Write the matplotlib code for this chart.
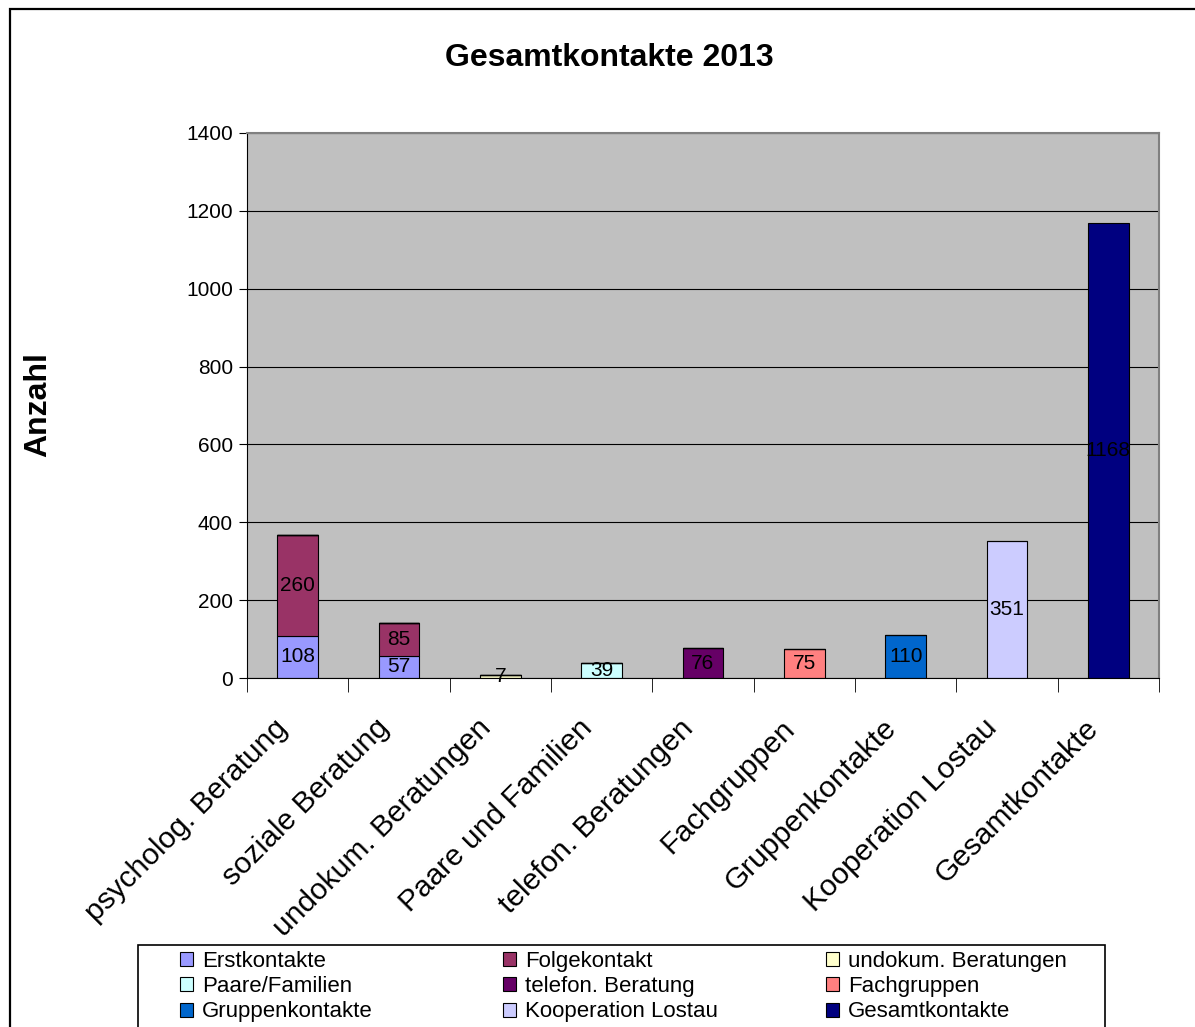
import matplotlib.pyplot as plt
import matplotlib.transforms as mtransforms
import numpy as np
from matplotlib.patches import Rectangle

plt.rcParams['font.family'] = ['Liberation Sans', 'DejaVu Sans']

# Kategorien (x-Achse)
categories = ["psycholog. Beratung", "soziale Beratung", "undokum. Beratungen",
              "Paare und Familien", "telefon. Beratungen", "Fachgruppen",
              "Gruppenkontakte", "Kooperation Lostau", "Gesamtkontakte"]

# Serien (je Serie ein Wert pro Kategorie, 0 = leer)
series_names = ["Erstkontakte", "Folgekontakt", "undokum. Beratungen",
                "Paare/Familien", "telefon. Beratung", "Fachgruppen",
                "Gruppenkontakte", "Kooperation Lostau", "Gesamtkontakte"]
erstkontakte = [108, 57, 0, 0, 0, 0, 0, 0, 0]
folgekontakt = [260, 85, 0, 0, 0, 0, 0, 0, 0]
undokum = [0, 0, 7, 0, 0, 0, 0, 0, 0]
paare = [0, 0, 0, 39, 0, 0, 0, 0, 0]
telefon = [0, 0, 0, 0, 76, 0, 0, 0, 0]
fachgruppen = [0, 0, 0, 0, 0, 75, 0, 0, 0]
gruppen = [0, 0, 0, 0, 0, 0, 110, 0, 0]
kooperation = [0, 0, 0, 0, 0, 0, 0, 351, 0]
gesamt = [0, 0, 0, 0, 0, 0, 0, 0, 1168]
series_values = [erstkontakte, folgekontakt, undokum, paare, telefon,
                 fachgruppen, gruppen, kooperation, gesamt]
colors = ["#9999FF", "#993366", "#FFFFCC", "#CCFFFF", "#660066",
          "#FF8080", "#0066CC", "#CCCCFF", "#000080"]

W, H = 1195, 1027
fig = plt.figure(figsize=(W / 100, H / 100), dpi=100)

# Rahmen um das Diagramm
fig.patches.append(Rectangle((10 / W, -0.01), 1.2, 1 - 9 / H + 0.01,
                             transform=fig.transFigure, fill=False,
                             edgecolor='black', linewidth=1.6))

ax = fig.add_axes([247 / W, 1 - 678 / H, 912 / W, 545 / H])
ax.set_facecolor('#C0C0C0')
ax.set_axisbelow(True)

x = np.arange(len(categories))
bottom = np.zeros(len(categories))
handles = []
for name, vals, col in zip(series_names, series_values, colors):
    vals = np.array(vals, dtype=float)
    bars = ax.bar(x, vals, width=0.4, bottom=bottom, color=col, edgecolor='black',
                  linewidth=0.8, label=name)
    handles.append(bars)
    for xi, v, b in zip(x, vals, bottom):
        if v > 0:
            ax.text(xi, b + v / 2, str(int(v)), ha='center', va='center',
                    fontsize=15, color='black')
    bottom += vals

ax.set_xlim(-0.5, len(categories) - 0.5)
ax.set_ylim(0, 1400)
ax.set_yticks(range(0, 1401, 200))
ax.tick_params(axis='y', labelsize=15, length=6, direction='out', pad=4)
ax.yaxis.grid(True, color='black', linewidth=0.8)

ax.set_xticks(x)
ax.set_xticklabels([])
ax.tick_params(axis='x', length=0)
ax.set_xticks(np.arange(len(categories) + 1) - 0.5, minor=True)
ax.tick_params(axis='x', which='minor', length=10, direction='out')
shift = mtransforms.ScaledTranslation(-24 / 100, -36 / 100, fig.dpi_scale_trans)
for xi, lab in zip(x, categories):
    ax.text(xi, 0, lab, rotation=45, ha='right', va='top',
            rotation_mode='anchor', fontsize=21.5,
            transform=ax.transData + shift, clip_on=False)

for s in ['top', 'right']:
    ax.spines[s].set_color('#808080')
    ax.spines[s].set_linewidth(1.5)
for s in ['left', 'bottom']:
    ax.spines[s].set_color('black')

fig.text(38 / W, 1 - 405 / H, 'Anzahl', rotation=90, ha='center', va='center',
         fontsize=23, fontweight='bold')
fig.text(609 / W, 1 - 58 / H, 'Gesamtkontakte 2013', ha='center',
         va='center', fontsize=23, fontweight='bold')

# Legende: Rahmen + drei Spalten
fig.patches.append(Rectangle((138 / W, -0.01), (1105 - 138) / W, 1 - 945 / H + 0.01,
                             transform=fig.transFigure, fill=False,
                             edgecolor='black', linewidth=1.2))
col_x = [180, 503, 826]
for c in range(3):
    idx = [r * 3 + c for r in range(3)]
    fig.legend([handles[i] for i in idx], [series_names[i] for i in idx],
               loc='upper left', bbox_to_anchor=(col_x[c] / W, 1 - 951 / H),
               fontsize=16, frameon=False, handlelength=0.6, handleheight=0.6,
               handletextpad=0.4, labelspacing=0.19, borderaxespad=0, borderpad=0.0)

fig.savefig('out.png', dpi=100)
